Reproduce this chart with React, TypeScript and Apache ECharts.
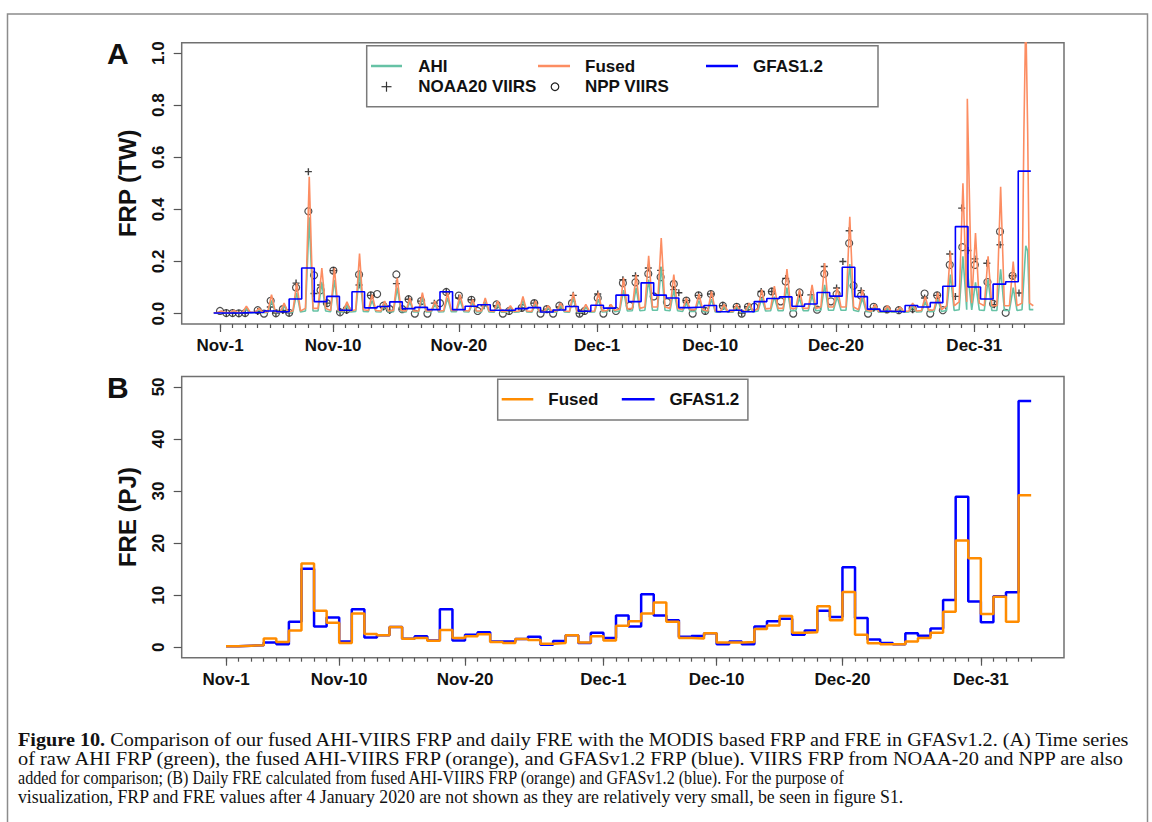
import React, { useEffect, useRef } from "react";
import * as echarts from "echarts";

// ---------- axis ticks (days since Nov-1) ----------
const dateTickDays = [0, 9, 19, 30, 39, 49, 60];
const dateTickLabels = ["Nov-1", "Nov-10", "Nov-20", "Dec-1", "Dec-10", "Dec-20", "Dec-31"];
const dailyTickDays = Array.from({ length: 65 }, (_, i) => i);
const frpTicks = [0, 0.2, 0.4, 0.6, 0.8, 1.0];
const freTicks = [0, 10, 20, 30, 40, 50];

// ---------- Panel A: FRP (TW), one diurnal peak per day ----------
const fusedPeak = [0.01, 0.012, 0.028, 0.02, 0.073, 0.04, 0.117, 0.525, 0.175, 0.175, 0.045, 0.23, 0.073, 0.048, 0.137, 0.06, 0.08, 0.048, 0.08, 0.073, 0.054, 0.06, 0.048, 0.03, 0.066, 0.048, 0.03, 0.04, 0.08, 0.035, 0.08, 0.035, 0.137, 0.15, 0.222, 0.29, 0.15, 0.06, 0.075, 0.085, 0.035, 0.035, 0.04, 0.092, 0.105, 0.171, 0.092, 0.11, 0.194, 0.1, 0.372, 0.092, 0.035, 0.03, 0.025, 0.04, 0.066, 0.08, 0.238, 0.5, 0.309, 0.22, 0.487, 0.2, 1.15];
const fusedBase = [0.004, 0.004, 0.005, 0.005, 0.006, 0.006, 0.01, 0.02, 0.02, 0.012, 0.01, 0.015, 0.012, 0.01, 0.012, 0.01, 0.01, 0.01, 0.012, 0.012, 0.01, 0.01, 0.008, 0.008, 0.01, 0.008, 0.008, 0.01, 0.008, 0.008, 0.01, 0.012, 0.018, 0.02, 0.025, 0.025, 0.02, 0.015, 0.015, 0.01, 0.008, 0.008, 0.01, 0.018, 0.02, 0.02, 0.02, 0.02, 0.025, 0.025, 0.025, 0.015, 0.008, 0.008, 0.008, 0.01, 0.012, 0.015, 0.03, 0.045, 0.04, 0.03, 0.03, 0.03, 0.04];
const fusedExtraTime = [-0.5, 59.45, 63.95, 64.25, 64.7];
const fusedExtraFRP = [0.003, 0.825, 0.7, 0.7, 0.03];

const ahiPeak = [0.008, 0.01, 0.02, 0.015, 0.05, 0.03, 0.08, 0.37, 0.12, 0.13, 0.03, 0.16, 0.05, 0.035, 0.1, 0.045, 0.06, 0.035, 0.06, 0.05, 0.04, 0.045, 0.035, 0.022, 0.05, 0.035, 0.022, 0.03, 0.06, 0.025, 0.055, 0.025, 0.09, 0.1, 0.13, 0.18, 0.09, 0.04, 0.05, 0.055, 0.025, 0.025, 0.03, 0.06, 0.065, 0.1, 0.06, 0.07, 0.11, 0.065, 0.19, 0.06, 0.025, 0.02, 0.018, 0.028, 0.045, 0.055, 0.15, 0.22, 0.12, 0.13, 0.17, 0.1, 0.26];
const ahiBase = [0.002, 0.002, 0.003, 0.003, 0.004, 0.004, 0.006, 0.01, 0.01, 0.007, 0.006, 0.008, 0.007, 0.006, 0.007, 0.006, 0.006, 0.006, 0.007, 0.007, 0.006, 0.006, 0.005, 0.005, 0.006, 0.005, 0.005, 0.006, 0.005, 0.005, 0.006, 0.007, 0.01, 0.011, 0.013, 0.013, 0.011, 0.008, 0.008, 0.006, 0.005, 0.005, 0.006, 0.01, 0.011, 0.011, 0.011, 0.011, 0.013, 0.013, 0.013, 0.008, 0.005, 0.005, 0.005, 0.006, 0.007, 0.008, 0.012, 0.015, 0.014, 0.012, 0.012, 0.012, 0.015];
const ahiExtraTime = [-0.5, 59.4, 64.25, 64.7];
const ahiExtraFRP = [0.002, 0.19, 0.24, 0.015];

// GFAS1.2 daily FRP (TW), steps from Oct-31 to Jan-3
const gfasFRP = [0.002, 0.002, 0.0035, 0.005, 0.01, 0.007, 0.056, 0.175, 0.046, 0.066, 0.013, 0.084, 0.022, 0.027, 0.045, 0.019, 0.024, 0.015, 0.084, 0.015, 0.028, 0.034, 0.013, 0.013, 0.019, 0.023, 0.006, 0.014, 0.027, 0.009, 0.032, 0.021, 0.071, 0.046, 0.118, 0.071, 0.06, 0.023, 0.025, 0.031, 0.007, 0.013, 0.007, 0.046, 0.058, 0.064, 0.028, 0.037, 0.081, 0.067, 0.178, 0.065, 0.017, 0.009, 0.007, 0.031, 0.025, 0.042, 0.105, 0.334, 0.102, 0.056, 0.113, 0.122, 0.547];

// VIIRS overpasses (time in days since Nov-1, FRP in TW)
const noaaTime = [0.5, 1.0, 1.5, 2.0, 3.0, 4.0, 4.45, 5.0, 5.5, 6.05, 7.03, 7.48, 8.0, 8.5, 9.02, 9.55, 10.08, 11.06, 12.0, 13.0, 13.5, 14.03, 14.5, 15.0, 16.0, 17.05, 18.0, 19.0, 20.0, 21.0, 22.0, 23.0, 24.0, 25.0, 26.0, 27.0, 28.1, 28.6, 29.0, 30.05, 31.0, 32.05, 33.05, 34.07, 35.05, 36.1, 36.5, 37.1, 38.07, 38.6, 39.05, 40.0, 41.1, 41.5, 42.0, 43.05, 43.9, 45.0, 46.1, 47.0, 48.07, 49.05, 49.55, 50.05, 51.0, 52.0, 53.05, 54.0, 55.1, 56.05, 57.05, 58.05, 58.5, 59.0, 59.5, 60.05, 61.0, 61.6, 62.05, 63.05, 63.56];
const noaaFRP = [0.002, 0.002, 0.001, 0.002, 0.008, 0.025, 0.002, 0.012, 0.003, 0.117, 0.545, 0.077, 0.11, 0.04, 0.165, 0.008, 0.012, 0.11, 0.07, 0.025, 0.012, 0.115, 0.017, 0.055, 0.048, 0.04, 0.083, 0.06, 0.053, 0.03, 0.03, 0.01, 0.022, 0.04, 0.017, 0.025, 0.07, 0.002, 0.01, 0.075, 0.02, 0.13, 0.145, 0.175, 0.166, 0.092, 0.08, 0.05, 0.07, 0.01, 0.075, 0.03, 0.026, 0.002, 0.026, 0.085, 0.085, 0.135, 0.07, 0.072, 0.181, 0.098, 0.2, 0.318, 0.088, 0.02, 0.016, 0.013, 0.015, 0.06, 0.07, 0.229, 0.066, 0.405, 0.242, 0.21, 0.193, 0.034, 0.264, 0.145, 0.079];
const nppTime = [0.0, 0.5, 1.0, 1.5, 2.0, 3.0, 3.5, 4.03, 4.45, 5.0, 5.5, 6.05, 7.03, 7.48, 8.0, 8.5, 9.02, 9.55, 10.08, 11.06, 12.0, 12.5, 13.0, 13.5, 14.03, 14.5, 15.0, 15.5, 16.0, 16.5, 17.5, 18.0, 19.0, 20.0, 20.5, 22.0, 22.5, 23.0, 24.0, 25.0, 25.5, 26.0, 26.5, 27.0, 28.0, 28.6, 29.0, 30.05, 30.5, 31.5, 32.05, 32.6, 33.05, 34.07, 34.5, 35.05, 35.55, 36.1, 37.1, 37.6, 38.07, 38.6, 39.05, 40.0, 41.1, 41.5, 42.0, 42.5, 43.05, 43.9, 44.6, 45.0, 45.6, 46.1, 47.5, 48.07, 48.6, 49.05, 50.05, 50.4, 51.0, 51.55, 52.0, 53.05, 54.0, 55.1, 56.05, 56.5, 57.05, 57.5, 58.05, 59.05, 60.05, 61.05, 61.5, 62.05, 62.5, 63.05];
const nppFRP = [0.01, 0.002, 0.002, 0.001, 0.002, 0.013, 0.0, 0.049, 0.001, 0.017, 0.003, 0.1, 0.393, 0.147, 0.09, 0.04, 0.165, 0.005, 0.016, 0.15, 0.07, 0.075, 0.03, 0.017, 0.15, 0.017, 0.055, 0.0, 0.048, 0.0, 0.04, 0.083, 0.069, 0.053, 0.01, 0.035, 0.0, 0.01, 0.022, 0.04, 0.0, 0.017, 0.0, 0.03, 0.04, 0.0, 0.01, 0.06, 0.0, 0.01, 0.117, 0.03, 0.12, 0.153, 0.066, 0.14, 0.044, 0.114, 0.05, 0.0, 0.07, 0.01, 0.075, 0.03, 0.026, 0.0, 0.026, 0.026, 0.075, 0.085, 0.047, 0.123, 0.0, 0.081, 0.015, 0.153, 0.047, 0.075, 0.27, 0.107, 0.069, 0.0, 0.026, 0.016, 0.013, 0.02, 0.077, 0.0, 0.07, 0.013, 0.187, 0.255, 0.187, 0.121, 0.038, 0.315, 0.003, 0.145];

// ---------- Panel B: daily FRE (PJ), Nov-1 .. Jan-3 ----------
const fusedFRE = [0.2, 0.3, 0.4, 1.7, 1.0, 3.2, 16.1, 7.0, 4.7, 0.8, 6.5, 2.55, 2.3, 3.9, 1.65, 1.8, 1.27, 3.3, 1.8, 2.1, 2.5, 1.0, 0.8, 1.6, 1.4, 0.7, 0.8, 2.3, 0.9, 2.1, 1.3, 4.15, 5.0, 6.5, 8.6, 4.9, 1.8, 1.7, 2.7, 0.9, 0.9, 1.0, 3.5, 4.2, 6.0, 2.8, 2.9, 7.9, 5.2, 10.6, 2.4, 0.77, 0.6, 0.6, 1.1, 1.8, 2.8, 6.8, 20.5, 17.1, 6.4, 9.7, 4.9, 29.2];
const gfasFRE = [0.2, 0.3, 0.4, 0.9, 0.6, 4.9, 15.1, 4.0, 5.7, 1.1, 7.3, 1.9, 2.3, 3.9, 1.65, 2.1, 1.3, 7.3, 1.3, 2.4, 2.9, 1.1, 1.1, 1.6, 2.0, 0.5, 1.2, 2.3, 0.8, 2.8, 1.8, 6.1, 4.0, 10.2, 6.1, 5.2, 2.0, 2.15, 2.7, 0.6, 1.1, 0.6, 4.0, 5.0, 5.5, 2.4, 3.2, 7.0, 5.8, 15.35, 5.6, 1.5, 0.8, 0.6, 2.7, 2.2, 3.6, 9.1, 28.9, 8.8, 4.8, 9.8, 10.55, 47.3];

const captionLines = [
  "{b|Figure 10.} Comparison of our fused AHI-VIIRS FRP and daily FRE with the MODIS based FRP and FRE in GFASv1.2. (A) Time series",
  "of raw AHI FRP (green), the fused AHI-VIIRS FRP (orange), and GFASv1.2 FRP (blue). VIIRS FRP from NOAA-20 and NPP are also",
  "added for comparison; (B) Daily FRE calculated from fused AHI-VIIRS FRP (orange) and GFASv1.2 (blue). For the purpose of",
  "visualization, FRP and FRE values after 4 January 2020 are not shown as they are relatively very small, be seen in figure S1.",
];

// ---------- helpers ----------
function diurnal(peaks: number[], bases: number[], exT: number[], exV: number[]) {
  const pts: number[][] = [];
  peaks.forEach((p, k) => {
    pts.push([k - 0.2, bases[k]], [k + 0.1, p], [k + 0.4, bases[k]]);
  });
  exT.forEach((t, i) => pts.push([t, exV[i]]));
  pts.sort((a, b) => a[0] - b[0]);
  return pts;
}
function steps(vals: number[], start: number) {
  const pts = vals.map((v, i) => [start + i, v]);
  pts.push([start + vals.length, vals[vals.length - 1]]);
  return pts;
}

export default function App() {
  const ref = useRef<HTMLDivElement>(null);
  useEffect(() => {
    if (!ref.current) return;
    const chart = echarts.init(ref.current, undefined, { renderer: "svg" });
    const SANS = "'Liberation Sans', Arial, Helvetica, sans-serif";
    const SERIF = "'Liberation Serif', 'Times New Roman', serif";
    const INK = "#111";
    const TICK = { color: "#555", width: 1.2 };

    const cvs = document.createElement("canvas");
    const ctx = cvs.getContext("2d")!;
    const measure = (t: string, font: string) => {
      ctx.font = font;
      return ctx.measureText(t).width;
    };
    const capSize = 18;
    const capTargets = [1114, 1112, 827, 887];
    const capY = [740, 759, 778, 797];

    const xMinor = (gridIndex: number, min: number, max: number) => ({
      type: "value", gridIndex, min, max, position: "bottom",
      splitLine: { show: false }, axisLine: { show: false, onZero: false },
      axisTick: { show: true, inside: false, customValues: dailyTickDays, length: 4, lineStyle: TICK },
      axisLabel: { show: false },
    });
    const xMajor = (gridIndex: number, min: number, max: number) => ({
      type: "value", gridIndex, min, max, position: "bottom",
      splitLine: { show: false }, axisLine: { show: false, onZero: false },
      axisTick: { show: true, inside: false, customValues: dateTickDays, length: 8, lineStyle: TICK },
      axisLabel: {
        customValues: dateTickDays,
        formatter: (v: number) => dateTickLabels[dateTickDays.indexOf(Math.round(v))] || "",
        fontSize: 17, fontWeight: "bold", color: INK, fontFamily: SANS, margin: 13,
      },
    });
    const yAxisCfg = (gridIndex: number, min: number, max: number, ticks: number[], digits: number, name: string) => ({
      type: "value", gridIndex, min, max, position: "left",
      splitLine: { show: false }, axisLine: { show: false, onZero: false },
      axisTick: { show: true, inside: false, customValues: ticks, length: 8, lineStyle: TICK },
      axisLabel: {
        customValues: ticks, rotate: 90,
        formatter: (v: number) => v.toFixed(digits),
        fontSize: 17, fontWeight: "bold", color: INK, fontFamily: SANS, margin: 15,
      },
      name, nameLocation: "middle", nameRotate: 90, nameGap: 42,
      nameTextStyle: { fontSize: 24, fontWeight: "bold", color: INK, fontFamily: SANS },
    });

    const gridBase = { show: true, borderColor: "#707070", borderWidth: 1.5, containLabel: false, outerBoundsMode: "none" };

    const graphic: any[] = [];
    graphic.push({ type: "rect", silent: true, shape: { x: 7.5, y: 14, width: 1140, height: 840 }, style: { fill: "none", stroke: "#8c8c8c", lineWidth: 1.5 } });
    graphic.push({ type: "text", x: 107, y: 53, style: { text: "A", fontSize: 30, fontWeight: "bold", fontFamily: SANS, fill: INK, verticalAlign: "middle" } });
    graphic.push({ type: "text", x: 107, y: 387, style: { text: "B", fontSize: 30, fontWeight: "bold", fontFamily: SANS, fill: INK, verticalAlign: "middle" } });

    const legText = (t: string, x: number, y: number) => ({
      type: "text", x, y, style: { text: t, fontSize: 17, fontWeight: "bold", fontFamily: SANS, fill: INK, verticalAlign: "middle" },
    });
    const legLine = (x1: number, x2: number, y: number, color: string) => ({
      type: "line", shape: { x1, y1: y, x2, y2: y }, style: { stroke: color, lineWidth: 2.5 },
    });
    graphic.push({ type: "rect", shape: { x: 366.7, y: 45.7, width: 511.3, height: 61 }, style: { fill: "#fff", stroke: "#7a7a7a", lineWidth: 1.5 }, z: 50 });
    [
      legLine(371, 402, 66, "#66C2A5"), legText("AHI", 418.3, 66),
      legLine(538, 570, 66, "#FC8D62"), legText("Fused", 585, 66),
      legLine(706, 738, 66, "#0000FF"), legText("GFAS1.2", 753, 66),
      { type: "line", shape: { x1: 381.5, y1: 86.7, x2: 391.5, y2: 86.7 }, style: { stroke: "#333", lineWidth: 1.2 } },
      { type: "line", shape: { x1: 386.5, y1: 81.7, x2: 386.5, y2: 91.7 }, style: { stroke: "#333", lineWidth: 1.2 } },
      legText("NOAA20 VIIRS", 418.3, 86.7),
      { type: "circle", shape: { cx: 555, cy: 86.7, r: 3.8 }, style: { fill: "none", stroke: "#222", lineWidth: 1.2 } },
      legText("NPP VIIRS", 585, 86.7),
    ].forEach((g: any) => graphic.push({ ...g, z: 51 }));
    graphic.push({ type: "rect", shape: { x: 497.7, y: 379.3, width: 250.2, height: 40.7 }, style: { fill: "#fff", stroke: "#7a7a7a", lineWidth: 1.5 }, z: 50 });
    [
      legLine(501.7, 533.3, 399.3, "#FF8C00"), legText("Fused", 548.3, 399.3),
      legLine(621.8, 654.6, 399.3, "#0000FF"), legText("GFAS1.2", 669.4, 399.3),
    ].forEach((g: any) => graphic.push({ ...g, z: 51 }));

    captionLines.forEach((line, i) => {
      let w = 0;
      const m = line.match(/^\{b\|(.*?)\}(.*)$/);
      if (m) w = measure(m[1], `bold ${capSize}px 'Liberation Serif'`) + measure(m[2], `${capSize}px 'Liberation Serif'`);
      else w = measure(line, `${capSize}px 'Liberation Serif'`);
      const sx = w > 0 ? capTargets[i] / w : 1;
      graphic.push({
        type: "text", x: 18, y: capY[i], scaleX: sx,
        style: {
          text: line, fontSize: capSize, fontFamily: SERIF, fill: INK, verticalAlign: "middle",
          rich: { b: { fontWeight: "bold", fontSize: capSize, fontFamily: SERIF, fill: INK } },
        },
      });
    });

    const option: any = {
      animation: false,
      backgroundColor: "#ffffff",
      textStyle: { fontFamily: SANS },
      grid: [
        { ...gridBase, left: 181.7, top: 42.7, width: 882.3, height: 281.3 },
        { ...gridBase, left: 181.7, top: 376.5, width: 882.3, height: 281.2 },
      ],
      xAxis: [xMinor(0, -3.047, 67.14), xMajor(0, -3.047, 67.14), xMinor(1, -3.52, 66.61), xMajor(1, -3.52, 66.61)],
      yAxis: [
        yAxisCfg(0, -0.04, 1.04, frpTicks, 1, "FRP (TW)"),
        yAxisCfg(1, -2, 52, freTicks, 0, "FRE (PJ)"),
      ],
      series: [
        { name: "AHI", type: "line", xAxisIndex: 0, yAxisIndex: 0, data: diurnal(ahiPeak, ahiBase, ahiExtraTime, ahiExtraFRP), showSymbol: false, lineStyle: { color: "#66C2A5", width: 1.6 }, itemStyle: { color: "#66C2A5" } },
        { name: "Fused", type: "line", xAxisIndex: 0, yAxisIndex: 0, data: diurnal(fusedPeak, fusedBase, fusedExtraTime, fusedExtraFRP), showSymbol: false, lineStyle: { color: "#FC8D62", width: 1.6 }, itemStyle: { color: "#FC8D62" } },
        { name: "GFAS1.2", type: "line", step: "end", xAxisIndex: 0, yAxisIndex: 0, data: steps(gfasFRP, -0.5), showSymbol: false, lineStyle: { color: "#0000FF", width: 1.6 }, itemStyle: { color: "#0000FF" } },
        { name: "NOAA20 VIIRS", type: "scatter", xAxisIndex: 0, yAxisIndex: 0, data: noaaTime.map((t, i) => [t, noaaFRP[i]]), symbol: "path://M4,0H6V4H10V6H6V10H4V6H0V4H4Z", symbolSize: 7, itemStyle: { color: "#111" } },
        { name: "NPP VIIRS", type: "scatter", xAxisIndex: 0, yAxisIndex: 0, data: nppTime.map((t, i) => [t, nppFRP[i]]), symbol: "circle", symbolSize: 7, itemStyle: { color: "rgba(0,0,0,0)", borderColor: "#222", borderWidth: 1.2 } },
        { name: "GFAS1.2 FRE", type: "line", step: "end", xAxisIndex: 2, yAxisIndex: 1, data: steps(gfasFRE, 0), showSymbol: false, lineStyle: { color: "#0000FF", width: 2.5 }, itemStyle: { color: "#0000FF" } },
        { name: "Fused FRE", type: "line", step: "end", xAxisIndex: 2, yAxisIndex: 1, data: steps(fusedFRE, 0), showSymbol: false, lineStyle: { color: "#FF8C00", width: 2.5 }, itemStyle: { color: "#FF8C00" } },
      ],
      graphic,
    };
    chart.setOption(option);
    return () => chart.dispose();
  }, []);
  return <div ref={ref} style={{ position: "absolute", left: 0, top: 0, width: 1152, height: 822 }} />;
}
